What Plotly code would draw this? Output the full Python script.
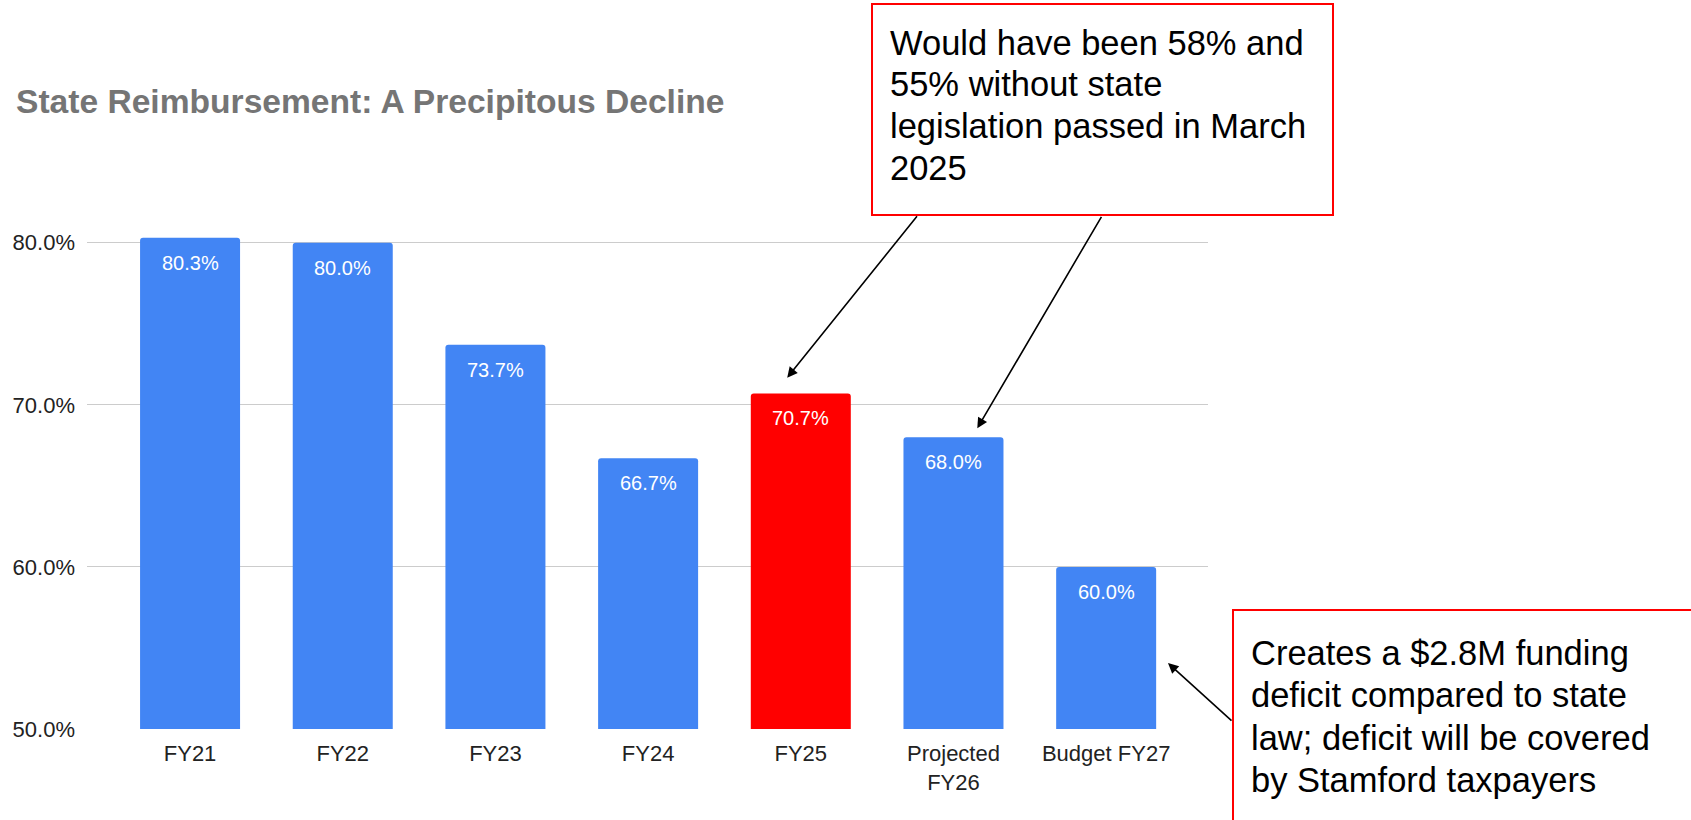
import plotly.graph_objects as go

# ---- data ----
categories = ["FY21", "FY22", "FY23", "FY24", "FY25", "Projected<br>FY26", "Budget FY27"]
values = [80.3, 80.0, 73.7, 66.7, 70.7, 68.0, 60.0]
highlight = "FY25"
tick_vals = [50, 60, 70, 80]
title_text = "State Reimbursement: A Precipitous Decline"
note_top_lines = ["Would have been 58% and", "55% without state", "legislation passed in March", "2025"]
note_bottom_lines = ["Creates a $2.8M funding", "deficit compared to state", "law; deficit will be covered",
                     "by Stamford taxpayers"]

BLUE = "#4285f4"
RED = "#ff0000"
FONT = "Arial, Liberation Sans, sans-serif"

W, H = 1691, 820
L, R, T, B = 87, 483, 226, 91
PW, PH = W - L - R, H - T - B


def px(x):
    return (x - L) / PW


def py(y):
    return (H - B - y) / PH


colors = [RED if c == highlight else BLUE for c in categories]

fig = go.Figure()
fig.add_trace(go.Bar(
    x=categories, y=values, marker=dict(color=colors, cornerradius=3, line=dict(width=0)),
    width=0.655, hoverinfo="skip", showlegend=False,
))

annotations = []
for c, v in zip(categories, values):
    annotations.append(dict(
        x=c, y=v, xref="x", yref="y", text=f"{v:.1f}%", showarrow=False,
        yanchor="top", yshift=-12, font=dict(family=FONT, size=20, color="white"),
    ))

# arrows (head in data coords, tail offset in pixels)
arrow_specs = [
    (3.911, 71.67, 131, -163),
    (5.156, 68.55, 125, -213),
    (6.405, 54.07, 65, 59),
]
for hx, hy, ax, ay in arrow_specs:
    annotations.append(dict(
        x=hx, y=hy, xref="x", yref="y", ax=ax, ay=ay, axref="pixel", ayref="pixel",
        text="", showarrow=True, arrowhead=2, arrowsize=1.3, arrowwidth=1.6,
        arrowcolor="black", standoff=0, startstandoff=0,
    ))


def add_note(lines, x0, top0, pitch):
    for i, line in enumerate(lines):
        annotations.append(dict(
            x=px(x0), y=py(top0 + i * pitch), xref="paper", yref="paper",
            xanchor="left", yanchor="top", text=line, showarrow=False, align="left",
            font=dict(family=FONT, size=34.5, color="black"),
        ))


add_note(note_top_lines, 888, 21.7, 41.7)
add_note(note_bottom_lines, 1249, 632, 42.4)

shapes = [
    dict(type="rect", xref="paper", yref="paper", x0=px(872), x1=px(1333), y0=py(4), y1=py(215),
         line=dict(color=RED, width=2), fillcolor="rgba(0,0,0,0)", layer="above"),
    dict(type="rect", xref="paper", yref="paper", x0=px(1233), x1=px(1720), y0=py(610), y1=py(850),
         line=dict(color=RED, width=2), fillcolor="rgba(0,0,0,0)", layer="above"),
]

fig.update_layout(
    width=W, height=H,
    margin=dict(l=L, r=R, t=T, b=B, pad=0),
    paper_bgcolor="white", plot_bgcolor="white",
    title=dict(text=f"<b>{title_text}</b>", xref="container", yref="container",
               x=16 / W, xanchor="left", y=1 - 101 / H, yanchor="middle",
               font=dict(family=FONT, size=33.6, color="#757575")),
    xaxis=dict(range=[-0.675, 6.667], showgrid=False, showline=False, zeroline=False,
               ticks="", tickfont=dict(family=FONT, size=22, color="#222222"),
               ticklabelstandoff=9),
    yaxis=dict(range=[50, 50 + PH / 16.21], tickvals=tick_vals, ticktext=[f"{v:.1f}%" for v in tick_vals],
               showgrid=True, gridcolor="#cccccc", gridwidth=1, zeroline=False, showline=False,
               ticks="", tickfont=dict(family=FONT, size=22, color="#222222"), ticklabelstandoff=11),
    annotations=annotations, shapes=shapes, bargap=0.3,
)

fig.write_html("out.html", config={"displayModeBar": False},
               post_script="document.body.style.margin='0';document.body.style.overflow='hidden';")
